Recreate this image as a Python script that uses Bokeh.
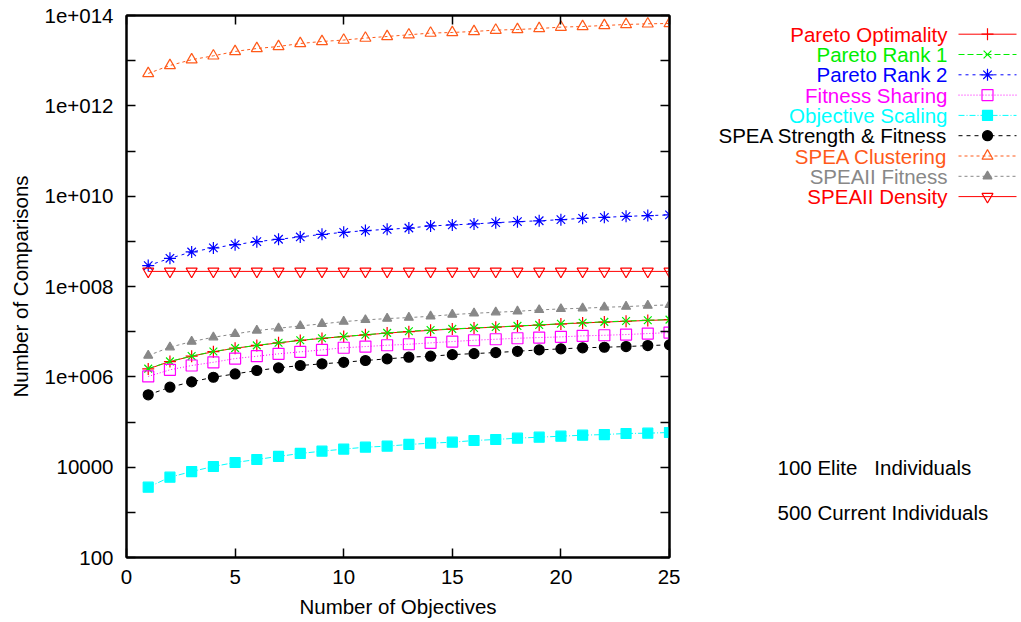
from bokeh.plotting import figure
from bokeh.models import (LinearAxis, LogAxis, FixedTicker, CustomJSTickFormatter,
                          Range1d, ColumnDataSource)
from bokeh.layouts import row
from bokeh.embed import file_html
from bokeh.resources import INLINE
from bokeh.core.properties import value

# ---------------- data ----------------
objectives = [1, 2, 3, 4, 5, 6, 7, 8, 9, 10, 11, 12, 13,
              14, 15, 16, 17, 18, 19, 20, 21, 22, 23, 24, 25]

pareto_optimality = [1.50e6, 2.18e6, 2.86e6, 3.60e6, 4.30e6, 4.95e6, 5.65e6, 6.40e6,
                     7.10e6, 7.80e6, 8.50e6, 9.30e6, 1.00e7, 1.07e7, 1.14e7, 1.20e7,
                     1.26e7, 1.33e7, 1.40e7, 1.48e7, 1.56e7, 1.63e7, 1.70e7, 1.77e7, 1.84e7]
pareto_rank_1 = [1.52e6, 2.20e6, 2.88e6, 3.63e6, 4.32e6, 4.97e6, 5.68e6, 6.45e6,
                 7.14e6, 7.82e6, 8.52e6, 9.40e6, 1.02e7, 1.09e7, 1.15e7, 1.21e7,
                 1.27e7, 1.34e7, 1.41e7, 1.50e7, 1.58e7, 1.65e7, 1.72e7, 1.79e7, 1.85e7]
pareto_rank_2 = [2.90e8, 4.21e8, 5.82e8, 7.14e8, 8.45e8, 9.84e8, 1.11e9, 1.25e9,
                 1.43e9, 1.58e9, 1.73e9, 1.84e9, 1.97e9, 2.19e9, 2.31e9, 2.43e9,
                 2.59e9, 2.73e9, 2.85e9, 3.02e9, 3.23e9, 3.40e9, 3.57e9, 3.71e9, 3.84e9]
fitness_sharing = [1.02e6, 1.43e6, 1.78e6, 2.10e6, 2.54e6, 2.86e6, 3.23e6, 3.57e6,
                   3.95e6, 4.40e6, 4.68e6, 5.00e6, 5.26e6, 5.65e6, 6.04e6, 6.46e6,
                   6.79e6, 7.14e6, 7.40e6, 7.67e6, 8.07e6, 8.32e6, 8.63e6, 9.08e6, 9.55e6]
objective_scaling = [3.6e3, 6.0e3, 8.0e3, 1.035e4, 1.27e4, 1.48e4, 1.73e4, 2.01e4,
                     2.26e4, 2.51e4, 2.77e4, 2.92e4, 3.18e4, 3.40e4, 3.57e4, 3.89e4,
                     4.10e4, 4.39e4, 4.61e4, 4.85e4, 5.10e4, 5.28e4, 5.57e4, 5.65e4, 5.86e4]
spea_strength = [4.0e5, 5.89e5, 7.74e5, 9.79e5, 1.16e6, 1.38e6, 1.58e6, 1.78e6,
                 1.94e6, 2.10e6, 2.30e6, 2.50e6, 2.72e6, 2.86e6, 3.10e6, 3.27e6,
                 3.45e6, 3.68e6, 3.95e6, 4.16e6, 4.39e6, 4.52e6, 4.68e6, 4.92e6, 5.10e6]
spea_clustering = [5.21e12, 7.83e12, 1.05e13, 1.28e13, 1.60e13, 1.86e13, 2.06e13, 2.40e13,
                   2.66e13, 2.86e13, 3.16e13, 3.43e13, 3.74e13, 4.08e13, 4.21e13, 4.43e13,
                   4.75e13, 4.90e13, 5.15e13, 5.53e13, 5.71e13, 6.01e13, 6.32e13, 6.55e13, 6.65e13]
speaii_fitness = [2.96e6, 4.52e6, 6.04e6, 7.52e6, 8.93e6, 1.06e7, 1.19e7, 1.34e7,
                  1.49e7, 1.67e7, 1.82e7, 1.95e7, 2.05e7, 2.19e7, 2.39e7, 2.55e7,
                  2.69e7, 2.82e7, 3.03e7, 3.19e7, 3.30e7, 3.47e7, 3.59e7, 3.78e7, 3.92e7]
speaii_density = [2.16e8, 2.16e8, 2.16e8, 2.16e8, 2.16e8, 2.16e8, 2.16e8, 2.16e8,
                  2.16e8, 2.16e8, 2.16e8, 2.16e8, 2.16e8, 2.16e8, 2.16e8, 2.16e8,
                  2.16e8, 2.16e8, 2.16e8, 2.16e8, 2.16e8, 2.16e8, 2.16e8, 2.16e8, 2.16e8]

series_names = ["Pareto Optimality", "Pareto Rank 1", "Pareto Rank 2", "Fitness Sharing",
                "Objective Scaling", "SPEA Strength & Fitness", "SPEA Clustering",
                "SPEAII Fitness", "SPEAII Density"]
series_values = [pareto_optimality, pareto_rank_1, pareto_rank_2, fitness_sharing,
                 objective_scaling, spea_strength, spea_clustering, speaii_fitness,
                 speaii_density]

x_ticks = [0, 5, 10, 15, 20, 25]
y_label_ticks = [1e2, 1e4, 1e6, 1e8, 1e10, 1e12, 1e14]
y_tick_labels = ["100", "10000", "1e+006", "1e+008", "1e+010", "1e+012", "1e+014"]
y_minor_ticks = [1e3, 1e5, 1e7, 1e9, 1e11, 1e13]
y_all_ticks = [1e2, 1e3, 1e4, 1e5, 1e6, 1e7, 1e8, 1e9, 1e10, 1e11, 1e12, 1e13, 1e14]
note_lines = ["100 Elite\u00a0\u00a0 Individuals", "500 Current Individuals"]

# ---------------- styles ----------------
colors = ["#ff0000", "#00ee00", "#0000ff", "#ff00ff", "#00ffff", "#000000",
          "#ff5a1a", "#888888", "#ff0000"]
dashes = ["solid", "6 3", "3 4", "1 2", "6 2 1 2", "4 4", "3 3", "3 3", "solid"]
markers = ["cross", "x", "asterisk", "square", "square", "circle", "triangle",
           "triangle", "inverted_triangle"]
msizes = [12, 11, 12, 11, 10, 10, 11, 9, 11]
filled = [False, False, False, False, True, True, False, True, False]

FONT = "Liberation Sans"
FS = "20.5px"

# ---------------- main plot ----------------
p = figure(width=680, height=622, y_axis_type="log",
           x_range=Range1d(0, 25), y_range=Range1d(1e2, 1e14),
           output_backend="svg", toolbar_location=None,
           min_border_left=126, min_border_right=11, min_border_top=15,
           min_border_bottom=65)
p.xgrid.visible = False
p.ygrid.visible = False
p.outline_line_color = "black"
p.outline_line_width = 2
p.background_fill_color = "white"
p.border_fill_color = "white"

for name, vals, c, d, m, s, f in zip(series_names, series_values, colors, dashes,
                                     markers, msizes, filled):
    src = ColumnDataSource(dict(x=objectives, y=vals))
    p.line("x", "y", source=src, line_color=c, line_width=1, line_dash=d)
    p.scatter("x", "y", source=src, marker=m, size=s, line_color=c, line_width=1.2,
              fill_color=c if f else None)

xa = p.xaxis[0]
xa.ticker = FixedTicker(ticks=x_ticks)
xa.axis_label = "Number of Objectives"
ya = p.yaxis[0]
ya.ticker = FixedTicker(ticks=y_label_ticks, minor_ticks=y_minor_ticks)
ya.formatter = CustomJSTickFormatter(args=dict(vals=y_label_ticks, labs=y_tick_labels),
                                     code="""
let best = 0; let bd = Infinity;
for (let i = 0; i < vals.length; i++) {
  const d = Math.abs(Math.log10(vals[i]) - Math.log10(tick));
  if (d < bd) { bd = d; best = i; }
}
return labs[best];
""")
ya.axis_label = "Number of Comparisons"

for ax in (xa, ya):
    ax.major_tick_in = 9
    ax.major_tick_out = 0
    ax.minor_tick_in = 9
    ax.minor_tick_out = 0
    ax.major_tick_line_width = 1.5
    ax.minor_tick_line_width = 1.5
    ax.axis_line_width = 2
    ax.major_label_text_font = FONT
    ax.major_label_text_font_size = FS
    ax.major_label_text_color = "black"
    ax.axis_label_text_font = FONT
    ax.axis_label_text_font_size = FS
    ax.axis_label_text_font_style = "normal"
    ax.axis_label_text_color = "black"
xa.minor_tick_in = 0
xa.major_label_standoff = 12
xa.axis_label_standoff = 8
ya.major_label_standoff = 13
ya.axis_label_standoff = 10

# mirror ticks on the top and right edges (minor ticks only: no labels)
top = LinearAxis(ticker=FixedTicker(ticks=[], minor_ticks=x_ticks))
right = LogAxis(ticker=FixedTicker(ticks=[], minor_ticks=y_all_ticks))
for ax in (top, right):
    ax.major_tick_in = 0
    ax.major_tick_out = 0
    ax.minor_tick_in = 9
    ax.minor_tick_out = 0
    ax.minor_tick_line_width = 1.5
    ax.axis_line_width = 2
    ax.major_label_standoff = 0
p.add_layout(top, "above")
p.add_layout(right, "right")

# ---------------- legend panel ----------------
# frame aligned with the main plot's frame (page y 15..557); data y = page y
q = figure(width=341, height=622, x_range=Range1d(0, 341), y_range=Range1d(557, 15),
           output_backend="svg", toolbar_location=None,
           min_border_left=0, min_border_right=0,
           min_border_top=15, min_border_bottom=65)
q.xaxis.visible = False
q.yaxis.visible = False
q.xgrid.visible = False
q.ygrid.visible = False
q.outline_line_color = None
q.background_fill_color = "white"
q.border_fill_color = "white"

row_y0, row_dy = 33.7, 20.3
ys = [row_y0 + i * row_dy for i in range(len(series_names))]
q.text(x=[267] * len(series_names), y=ys, text=series_names,
       text_color=colors, text_align="right", text_baseline="middle",
       text_font=value(FONT), text_font_size=FS)
for i, (c, d, m, s, f) in enumerate(zip(colors, dashes, markers, msizes, filled)):
    q.line(x=[278, 336], y=[ys[i], ys[i]], line_color=c, line_width=1, line_dash=d)
    q.scatter(x=[307], y=[ys[i]], marker=m, size=s, line_color=c, line_width=1.2,
              fill_color=c if f else None)

q.text(x=[97, 97], y=[467, 512], text=note_lines, text_color="black",
       text_align="left", text_baseline="middle",
       text_font=value(FONT), text_font_size=FS)

layout = row(p, q)
open("out.html", "w").write(file_html(layout, INLINE))
